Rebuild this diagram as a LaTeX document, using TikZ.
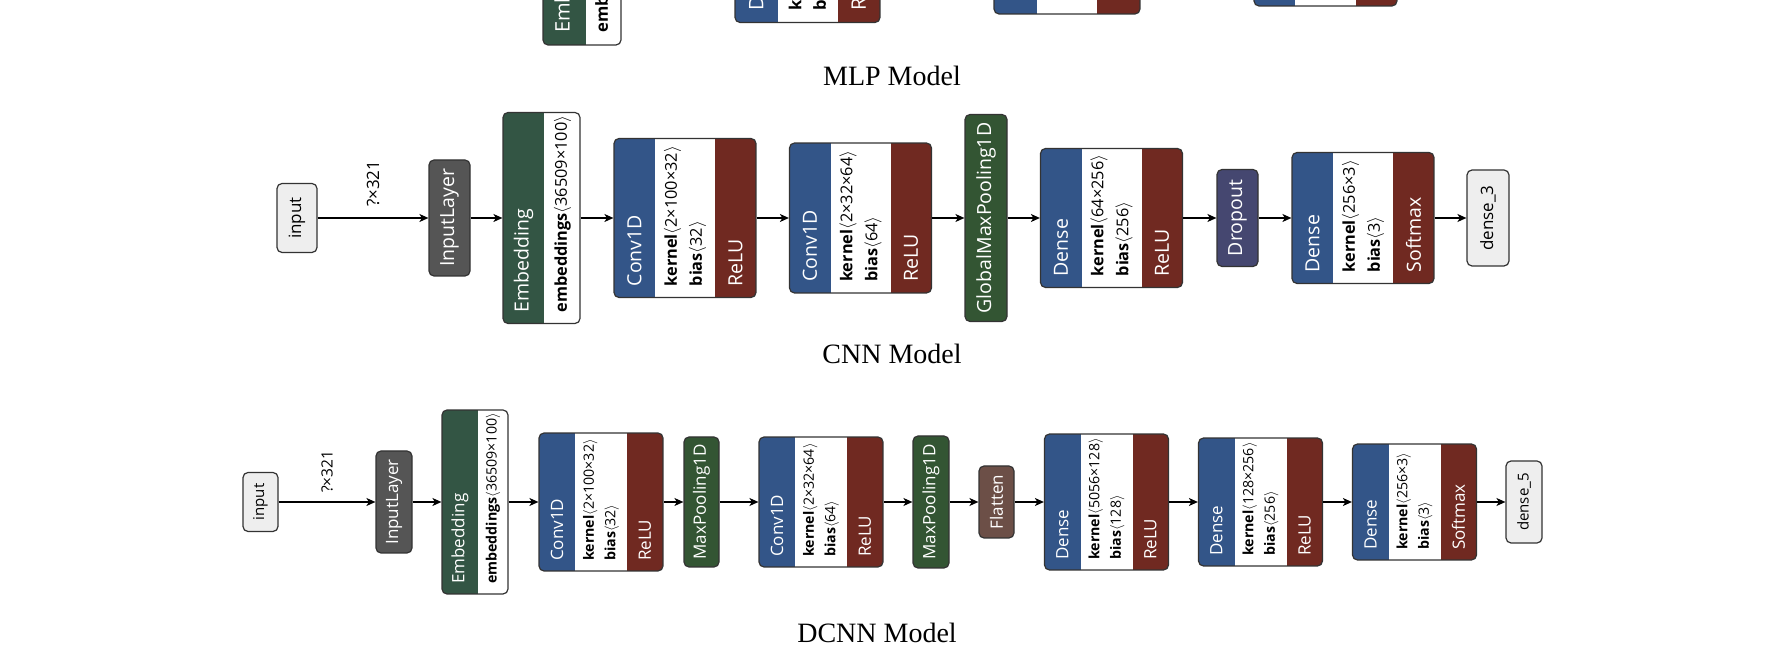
\documentclass[tikz,border=0pt]{standalone}
\usepackage{fontspec}
\setmainfont{Liberation Serif}
\setsansfont{Open Sans}
\usetikzlibrary{arrows.meta}
\definecolor{layblue}{RGB}{51,85,136}
\definecolor{actred}{RGB}{112,41,33}
\definecolor{poolgreen}{RGB}{51,85,51}
\definecolor{embgreen}{RGB}{51,85,68}
\definecolor{dropblue}{RGB}{69,71,112}
\definecolor{flatbrown}{RGB}{108,79,71}
\definecolor{datagray}{RGB}{85,85,85}
\definecolor{iogray}{RGB}{238,238,238}
\definecolor{rim}{RGB}{51,51,51}
\newcommand{\shp}[1]{$\langle$#1$\rangle$}

\begin{document}
\begin{tikzpicture}[x=1pt, y=1pt,
  lay/.style={draw=rim, line width=1.2pt, rounded corners=5pt, inner sep=0pt, fill=white},
  io/.style={lay, fill=iogray, rotate=90, font=\sffamily\fontsize{#1}{#1}\selectfont},
  blk/.style 2 args={lay, fill=#1, rotate=90, text=white, font=\sffamily\fontsize{#2}{#2}\selectfont},
  duo/.style 2 args={lay, path picture={
    \fill[#1, sharp corners] (path picture bounding box.south west) rectangle ([xshift=#2]path picture bounding box.north west);}},
  tri/.style={lay, path picture={
    \fill[layblue, sharp corners] (path picture bounding box.south west) rectangle ([xshift=#1]path picture bounding box.north west);
    \fill[actred, sharp corners] (path picture bounding box.south east) rectangle ([xshift=-#1]path picture bounding box.north east);}},
  hd/.style={rotate=90, anchor=west, inner sep=0pt, text=white, font=\sffamily\fontsize{#1}{#1}\selectfont},
  bd/.style 2 args={rotate=90, anchor=west, inner sep=0pt, align=left, font=\sffamily\fontsize{#1}{#2}\selectfont},
  lbl/.style={rotate=90, anchor=west, inner sep=0pt, font=\sffamily\fontsize{#1}{#1}\selectfont},
  modeltitle/.style={anchor=base, font=\fontsize{28}{28}\selectfont},
  arr/.style={line width=1.4pt, -{Stealth[length=9pt, width=8pt, inset=2.5pt]}}]
  \path[use as bounding box] (0,0) rectangle (1770,650);
  \clip (0,0) rectangle (1770,650);

  % MLP row (only its lower edge is left on the page)
  \node[duo={embgreen}{43pt}, minimum width=78pt, minimum height=212pt] (em0) at (582,711) {};
  \node[hd=20] (em0h) at (564.5,617) {Embedding};
  \node[bd={16.6}{24.5}] (em0b) at (603.5,617) {\textbf{embeddings}};
  \node[tri=42.5pt, minimum width=145pt, minimum height=167pt] (dn6) at (807.5,711) {};
  \node[hd=20] (dn6h) at (756.25,639.5) {Dense};
  \node[bd={16.6}{24.5}] (dn6b) at (807.5,639.5) {\textbf{kernel}\\\textbf{bias}};
  \node[hd=20] (dn6a) at (858.75,639.5) {ReLU};
  \node[tri=43pt, minimum width=146pt, minimum height=150pt] (dn7) at (1067,711) {};
  \node[hd=20] (dn7h) at (1015.5,648) {Dense};
  \node[bd={16.6}{24.5}] (dn7b) at (1067,648) {\textbf{kernel}\\\textbf{bias}};
  \node[hd=20] (dn7a) at (1118.5,648) {ReLU};
  \node[tri=41pt, minimum width=143pt, minimum height=134pt] (dn8) at (1325.5,711) {};
  \node[modeltitle] (t1) at (892,564) {MLP Model};

  % CNN row
  \node[io=17, minimum width=69pt, minimum height=40pt] (in1) at (297,432) {input};
  \node[blk={datagray}{19.5}, minimum width=116pt, minimum height=41pt] (il1) at (449.5,432) {InputLayer};
  \node[duo={embgreen}{41pt}, minimum width=77pt, minimum height=211pt] (em1) at (541.5,432) {};
  \node[hd=19.5] (em1h) at (523.5,337.5) {Embedding};
  \node[bd={16.3}{25}] (em1b) at (562.5,337.5) {\textbf{embeddings}\shp{36509×100}};
  \node[tri=41pt, minimum width=142pt, minimum height=159pt] (cv1) at (685,432) {};
  \node[hd=19.5] (cv1h) at (634.5,363.5) {Conv1D};
  \node[bd={16.3}{25}] (cv1b) at (685,363.5) {\textbf{kernel}\shp{2×100×32}\\\textbf{bias}\shp{32}};
  \node[hd=19.5] (cv1a) at (735.5,363.5) {ReLU};
  \node[tri=41pt, minimum width=142pt, minimum height=150pt] (cv2) at (860.5,432) {};
  \node[hd=19.5] (cv2h) at (810,368) {Conv1D};
  \node[bd={16.3}{25}] (cv2b) at (860.5,368) {\textbf{kernel}\shp{2×32×64}\\\textbf{bias}\shp{64}};
  \node[hd=19.5] (cv2a) at (911,368) {ReLU};
  \node[blk={poolgreen}{19.5}, minimum width=207pt, minimum height=42pt] (gp1) at (986,432) {GlobalMaxPooling1D};
  \node[tri=41pt, minimum width=142pt, minimum height=139pt] (dn1) at (1111.5,432) {};
  \node[hd=19.5] (dn1h) at (1061,373.5) {Dense};
  \node[bd={16.3}{25}] (dn1b) at (1111.5,373.5) {\textbf{kernel}\shp{64×256}\\\textbf{bias}\shp{256}};
  \node[hd=19.5] (dn1a) at (1162,373.5) {ReLU};
  \node[blk={dropblue}{19.5}, minimum width=97pt, minimum height=41pt] (dp1) at (1237.5,432) {Dropout};
  \node[tri=41pt, minimum width=142pt, minimum height=131pt] (dn2) at (1363,432) {};
  \node[hd=19.5] (dn2h) at (1312.5,377.5) {Dense};
  \node[bd={16.3}{25}] (dn2b) at (1363,377.5) {\textbf{kernel}\shp{256×3}\\\textbf{bias}\shp{3}};
  \node[hd=19.5] (dn2a) at (1413.5,377.5) {Softmax};
  \node[io=17, minimum width=96pt, minimum height=42pt] (out1) at (1488,432) {dense\_3};
  \draw[arr] (in1)--(il1); \draw[arr] (il1)--(em1); \draw[arr] (em1)--(cv1);
  \draw[arr] (cv1)--(cv2); \draw[arr] (cv2)--(gp1); \draw[arr] (gp1)--(dn1);
  \draw[arr] (dn1)--(dp1); \draw[arr] (dp1)--(dn2); \draw[arr] (dn2)--(out1);
  \node[lbl=17] (q1) at (373,443) {?×321};
  \node[modeltitle] (t2) at (892,286) {CNN Model};

  % DCNN row
  \node[io=15, minimum width=59pt, minimum height=35pt] (in2) at (260.5,148) {input};
  \node[blk={datagray}{17}, minimum width=102pt, minimum height=36pt] (il2) at (394,148) {InputLayer};
  \node[duo={embgreen}{36pt}, minimum width=66pt, minimum height=184pt] (em2) at (475,148) {};
  \node[hd=17] (em2h) at (460,66) {Embedding};
  \node[bd={14.2}{21.6}] (em2b) at (493,66) {\textbf{embeddings}\shp{36509×100}};
  \node[tri=36pt, minimum width=124pt, minimum height=138pt] (cv3) at (601,148) {};
  \node[hd=17] (cv3h) at (557,89) {Conv1D};
  \node[bd={14.2}{21.6}] (cv3b) at (601,89) {\textbf{kernel}\shp{2×100×32}\\\textbf{bias}\shp{32}};
  \node[hd=17] (cv3a) at (645,89) {ReLU};
  \node[blk={poolgreen}{17}, minimum width=130pt, minimum height=35pt] (mp1) at (701.5,148) {MaxPooling1D};
  \node[tri=36pt, minimum width=124pt, minimum height=130pt] (cv4) at (821,148) {};
  \node[hd=17] (cv4h) at (777,93) {Conv1D};
  \node[bd={14.2}{21.6}] (cv4b) at (821,93) {\textbf{kernel}\shp{2×32×64}\\\textbf{bias}\shp{64}};
  \node[hd=17] (cv4a) at (865,93) {ReLU};
  \node[blk={poolgreen}{17}, minimum width=132pt, minimum height=36pt] (mp2) at (931,148) {MaxPooling1D};
  \node[blk={flatbrown}{17}, minimum width=72pt, minimum height=35pt] (fl1) at (996.5,148) {Flatten};
  \node[tri=36pt, minimum width=124pt, minimum height=136pt] (dn3) at (1106.5,148) {};
  \node[hd=17] (dn3h) at (1062.5,90) {Dense};
  \node[bd={14.2}{21.6}] (dn3b) at (1106.5,90) {\textbf{kernel}\shp{5056×128}\\\textbf{bias}\shp{128}};
  \node[hd=17] (dn3a) at (1150.5,90) {ReLU};
  \node[tri=36pt, minimum width=124pt, minimum height=128pt] (dn4) at (1260.5,148) {};
  \node[hd=17] (dn4h) at (1216.5,94) {Dense};
  \node[bd={14.2}{21.6}] (dn4b) at (1260.5,94) {\textbf{kernel}\shp{128×256}\\\textbf{bias}\shp{256}};
  \node[hd=17] (dn4a) at (1304.5,94) {ReLU};
  \node[tri=36pt, minimum width=124pt, minimum height=116pt] (dn5) at (1414.5,148) {};
  \node[hd=17] (dn5h) at (1370.5,100) {Dense};
  \node[bd={14.2}{21.6}] (dn5b) at (1414.5,100) {\textbf{kernel}\shp{256×3}\\\textbf{bias}\shp{3}};
  \node[hd=17] (dn5a) at (1458.5,100) {Softmax};
  \node[io=15, minimum width=82pt, minimum height=36pt] (out2) at (1524,148) {dense\_5};
  \draw[arr] (in2)--(il2); \draw[arr] (il2)--(em2); \draw[arr] (em2)--(cv3);
  \draw[arr] (cv3)--(mp1); \draw[arr] (mp1)--(cv4); \draw[arr] (cv4)--(mp2);
  \draw[arr] (mp2)--(fl1); \draw[arr] (fl1)--(dn3); \draw[arr] (dn3)--(dn4);
  \draw[arr] (dn4)--(dn5); \draw[arr] (dn5)--(out2);
  \node[lbl=15.5] (q2) at (327,157) {?×321};
  \node[modeltitle] (t3) at (877,7) {DCNN Model};
\end{tikzpicture}
\end{document}
